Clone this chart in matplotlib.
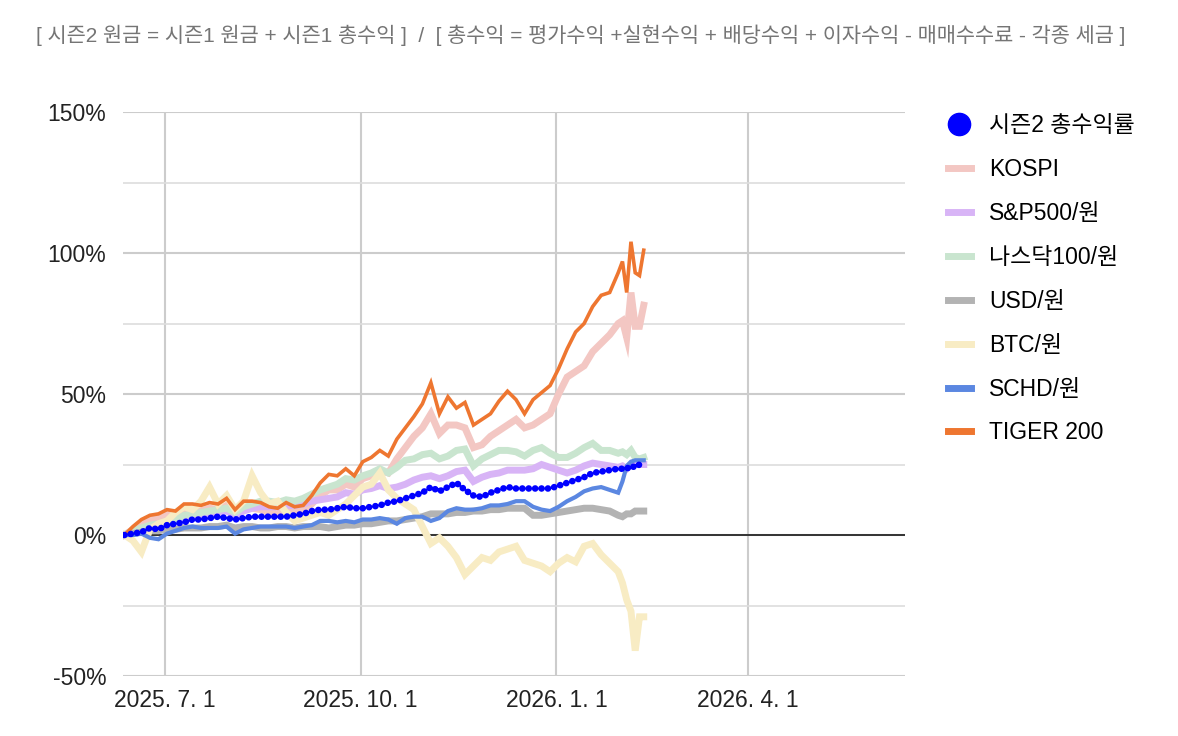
import matplotlib
matplotlib.use("Agg")
import matplotlib.pyplot as plt
from matplotlib.lines import Line2D
import pandas as pd

plt.rcParams['font.family'] = ['Liberation Sans', 'Noto Sans CJK KR', 'DejaVu Sans']

# sample dates (roughly every 4 days, denser at the end)
dates = pd.to_datetime([
    '2025-06-12', '2025-06-16', '2025-06-20', '2025-06-24', '2025-06-28',
    '2025-07-02', '2025-07-06', '2025-07-10', '2025-07-14', '2025-07-18',
    '2025-07-22', '2025-07-26', '2025-07-30', '2025-08-03', '2025-08-07',
    '2025-08-11', '2025-08-15', '2025-08-19', '2025-08-23', '2025-08-27',
    '2025-08-31', '2025-09-04', '2025-09-08', '2025-09-12', '2025-09-16',
    '2025-09-20', '2025-09-24', '2025-09-28', '2025-10-02', '2025-10-06',
    '2025-10-10', '2025-10-14', '2025-10-18', '2025-10-22', '2025-10-26',
    '2025-10-30', '2025-11-03', '2025-11-07', '2025-11-11', '2025-11-15',
    '2025-11-19', '2025-11-23', '2025-11-27', '2025-12-01', '2025-12-05',
    '2025-12-09', '2025-12-13', '2025-12-17', '2025-12-21', '2025-12-25',
    '2025-12-29', '2026-01-02', '2026-01-06', '2026-01-10', '2026-01-14',
    '2026-01-18', '2026-01-22', '2026-01-26', '2026-01-30',
    '2026-02-01', '2026-02-03', '2026-02-05', '2026-02-07', '2026-02-09', '2026-02-11',
])

# returns in %
season2 = [0, 0.5, 1, 2.5, 2, 3.5, 4, 4.5, 5.5, 5.5, 6, 6.5, 6, 5.5, 6,
           6.5, 6.5, 6.5, 6.5, 6.5, 7, 7.5, 8.5, 9, 9, 9.5, 10, 9.5, 9.5, 10,
           10.5, 11.5, 12, 13, 14, 15, 17, 15.5, 17, 18.5, 16, 14, 13.5, 15, 16,
           17, 16.5, 16.5, 16.5, 16.5, 16.5, 17.5, 18.5, 19.5, 20.5, 22, 22.5, 23, 23.5,
           23.5, 23.5, 24.5, 24, 25, 25.5]
kospi = [0, 2, 4, 5.5, 6, 7.5, 7, 9, 9, 8.5, 9.5, 9, 10.5, 7, 9,
         9.5, 9, 8, 7.5, 9, 8, 9, 11, 14, 16, 16, 18, 17, 20, 21,
         23, 22, 27, 31, 35, 38, 43, 36, 39, 39, 38, 31, 32, 35, 37,
         39, 41, 38, 39, 41, 43, 50, 56, 58, 60, 65, 68, 71, 75,
         76, 70, 86, 74, 74, 81.5]
sp500 = [0, 1, 2, 3, 3.5, 4.5, 5, 6, 6.5, 7, 7.5, 8, 8.5, 7, 8.5,
         9.5, 10, 10, 10, 10.5, 10.5, 11, 12, 12.5, 13, 13.5, 15, 14.5, 16, 16.5,
         17.5, 16.5, 17, 18, 19.5, 20.5, 21, 20, 21, 22.5, 23, 19, 20.5, 21.5, 22,
         23, 23, 23, 23.5, 25, 24, 23, 22, 23, 24.5, 25.5, 25, 24.5, 24,
         24.5, 23.5, 25, 25.5, 25, 25]
nasdaq = [0, 1.5, 2.5, 3.5, 4, 5, 5.5, 7, 7.5, 8, 8.5, 9, 9.5, 8, 10,
          11, 12, 12, 11.5, 12.5, 12, 13, 14.5, 16, 17, 18, 20, 19.5, 21, 22,
          23.5, 22, 24, 26.5, 27, 28.5, 29, 27, 28, 30, 30.5, 24.5, 27, 28.5, 30,
          30, 29.5, 28, 30, 31, 29, 27.5, 27.5, 29, 31, 32.5, 30, 30, 29,
          29.5, 28.5, 30, 27.5, 27, 27.5]
usd = [0, 0.5, 1, 1.5, 1.5, 2, 2, 2.5, 2.5, 2.5, 3, 3, 3.5, 2.5, 3,
       3, 2.5, 2.5, 3, 3, 2.5, 3, 3, 3, 2.5, 3, 3.5, 3.5, 4, 4,
       4.5, 5, 5, 5.5, 6, 6.5, 7.5, 7.5, 7.5, 8, 8, 8.5, 8.5, 9, 9,
       9.5, 9.5, 9.5, 7, 7, 7.5, 8, 8.5, 9, 9.5, 9.5, 9, 8.5, 7,
       6.5, 7.5, 7.5, 8.5, 8.5, 8.5]
btc = [0, -2, -6, 2, 4, 5, 8, 10, 9, 12, 17, 11, 14, 9, 12,
       21, 15, 11, 12, 8, 5, 6, 7, 8, 7, 9, 11, 14, 17, 18,
       22, 16, 13, 11, 9, 3, -3, -1, -4, -8, -14, -11, -8, -9, -6,
       -5, -4, -9, -10, -11, -13, -10, -8, -9.5, -4, -3, -7, -10, -13,
       -17, -23, -27, -41, -29, -29]
schd = [0, 0, 0.5, -1, -1.5, 0.5, 1.5, 2.5, 3, 2.5, 2.5, 2.5, 3, 0.5, 2,
        2.5, 3, 3, 3, 3, 2.5, 3, 3.5, 5, 5, 4.5, 5, 4.5, 5.5, 5.5,
        6, 5.5, 4, 6, 6.5, 6.5, 5, 6, 8.5, 9.5, 9, 9, 9.5, 10.5, 10.5,
        11, 12, 12, 10, 9, 8.5, 10, 12, 13.5, 15.5, 16.5, 17, 16, 15,
        19, 24.5, 26, 26.5, 26.5, 26.5]
tiger200 = [0, 3, 5.5, 7, 7.5, 9, 8.5, 11, 11, 10.5, 11.5, 11, 13, 9, 12,
            12, 11.5, 10, 9.5, 11.5, 10, 10.5, 14, 18.5, 21.5, 21, 23.5, 21, 26, 27.5,
            30, 28, 34, 38, 42, 46.5, 54, 43, 49, 45, 47, 39, 41, 43, 47.5,
            51, 48, 43, 48, 50.5, 53, 59, 66, 72, 75, 81, 85, 86, 93,
            97, 86, 104, 93, 92, 101]

labels = ['시즌2 총수익률', 'KOSPI', 'S&P500/원', '나스닥100/원', 'USD/원', 'BTC/원', 'SCHD/원', 'TIGER 200']
colors = ['#0000ff', '#f3c7c3', '#d8b4f6', '#c9e5cf', '#b3b3b3', '#f8ecc4', '#5b87e1', '#ee7630']

title = '[ 시즌2 원금 = 시즌1 원금 + 시즌1 총수익 ]  /  [ 총수익 = 평가수익 +실현수익 + 배당수익 + 이자수익 - 매매수수료 - 각종 세금 ]'

fig = plt.figure(figsize=(11.78, 7.36), dpi=100)
ax = fig.add_axes([0.1044, 0.0815, 0.664, 0.7663])

series = [kospi, sp500, nasdaq, usd, btc, schd, tiger200]
widths = [5.0, 5.0, 5.0, 5.0, 5.0, 3.0, 2.6]
for vals, c, w in zip(series, colors[1:], widths):
    ax.plot(dates, vals, color=c, lw=w, solid_joinstyle='miter', zorder=3)

# season 2 drawn as a chain of dots
ax.plot(dates, season2, color=colors[0], lw=4.8, linestyle=(0, (0.01, 0.95)),
        dash_capstyle='round', zorder=5)

ax.axhline(0, color='#333333', lw=1.4, zorder=2)

ax.set_ylim(-50, 150)
ax.set_xlim(pd.Timestamp('2025-06-11 08:00'), pd.Timestamp('2026-06-13 20:00'))
ax.set_yticks([-50, 0, 50, 100, 150])
ax.set_yticklabels(['-50%', '0%', '50%', '100%', '150%'])
ax.set_yticks([-25, 25, 75, 125], minor=True)
ticks = pd.to_datetime(['2025-07-01', '2025-10-01', '2026-01-01', '2026-04-01'])
ax.set_xticks(ticks)
ax.set_xticklabels(['2025. 7. 1', '2025. 10. 1', '2026. 1. 1', '2026. 4. 1'])
ax.grid(True, which='major', axis='both', color='#cccccc', lw=1.5, zorder=0)
ax.grid(True, which='minor', axis='y', color='#dddddd', lw=1.2, zorder=0)
ax.tick_params(axis='both', which='both', length=0, labelsize=16.5, colors='#222222')
ax.tick_params(axis='y', pad=12)
ax.tick_params(axis='x', pad=9)
for s in ax.spines.values():
    s.set_visible(False)

fig.text(0.493, 0.952, title, ha='center', va='center', fontsize=15, color='#757575')

handles = [Line2D([], [], color=colors[0], marker='o', ms=16, lw=0)]
handles += [Line2D([], [], color=c, lw=5) for c in colors[1:]]
fig.legend(handles, labels, loc='upper left', bbox_to_anchor=(0.797, 0.857),
           frameon=False, fontsize=16.5, handlelength=1.0, handletextpad=0.8,
           labelspacing=0.91, borderaxespad=0)

fig.savefig('out.png', dpi=100, facecolor='white')
